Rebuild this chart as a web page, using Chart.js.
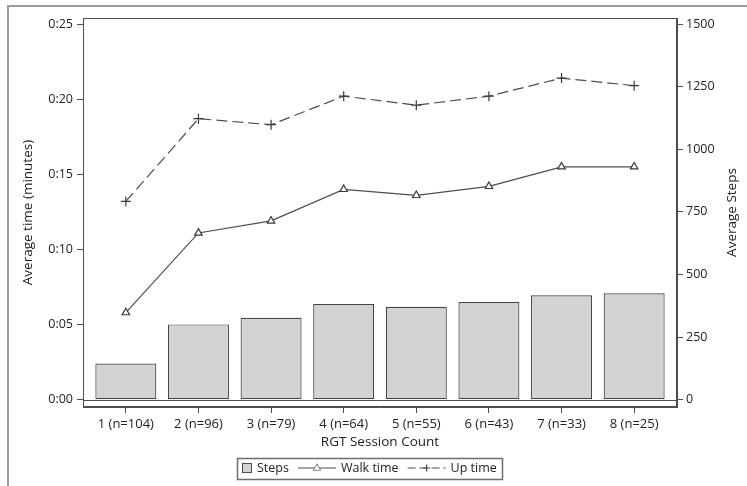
<!DOCTYPE html>
<html>
<head>
<meta charset="utf-8">
<script src="https://cdn.jsdelivr.net/npm/chart.js@4/dist/chart.umd.min.js"></script>
<style>
  html, body { margin: 0; padding: 0; background: #ffffff; }
  #wrap { width: 747px; height: 486px; position: relative; }
</style>
</head>
<body>
<div id="wrap"><canvas id="chart" width="747" height="486"></canvas></div>
<script>
// Session categories and their labels on the x axis
const sessions = [1, 2, 3, 4, 5, 6, 7, 8];
const sessionLabels = ['1 (n=104)', '2 (n=96)', '3 (n=79)', '4 (n=64)', '5 (n=55)', '6 (n=43)', '7 (n=33)', '8 (n=25)'];

// Series values
const avgSteps = [145, 301, 327, 382, 371, 390, 417, 425];          // right axis (steps)
const walkTime = [5.8, 11.1, 11.9, 14.0, 13.6, 14.2, 15.5, 15.5];   // left axis (minutes)
const upTime   = [13.2, 18.7, 18.3, 20.2, 19.6, 20.2, 21.4, 20.9];  // left axis (minutes)

// Tick values and labels
const timeTicks = [0, 5, 10, 15, 20, 25];
const timeTickLabels = ['0:00', '0:05', '0:10', '0:15', '0:20', '0:25'];
const stepTicks = [0, 250, 500, 750, 1000, 1250, 1500];

const FONT = '"Open Sans", "Noto Sans", "DejaVu Sans", sans-serif';
const TEXT = '#222222';
const AXIS = '#4d4d4d';

const pts = vals => vals.map((v, i) => ({ x: sessions[i], y: v }));

// Frame, baseline, right-hand title and the boxed legend
const decor = {
  id: 'decor',
  beforeDraw(chart) {
    const { ctx, width, height } = chart;
    ctx.save();
    ctx.fillStyle = '#ffffff';
    ctx.fillRect(0, 0, width, height);
    ctx.strokeStyle = '#9c9c9c';
    ctx.lineWidth = 2;
    ctx.beginPath();
    ctx.moveTo(8, height + 2);
    ctx.lineTo(8, 6);
    ctx.lineTo(width + 2, 6);
    ctx.stroke();
    ctx.restore();
  },
  beforeDatasetsDraw(chart) {
    const { ctx, chartArea: a } = chart;
    const y0 = Math.round(chart.scales.ySteps.getPixelForValue(0)) + 0.5;
    ctx.save();
    ctx.strokeStyle = AXIS;
    ctx.lineWidth = 1;
    ctx.beginPath();
    ctx.moveTo(a.left, y0);
    ctx.lineTo(a.right, y0);
    ctx.stroke();
    ctx.restore();
  },
  afterDraw(chart) {
    const { ctx, chartArea: a } = chart;
    ctx.save();
    // plot frame
    ctx.strokeStyle = AXIS;
    ctx.lineWidth = 1;
    ctx.strokeRect(Math.round(a.left) + 0.5, Math.round(a.top) + 0.5,
                   Math.round(a.right - a.left) - 1, Math.round(a.bottom - a.top) - 1);

    // right axis title, reading bottom to top
    ctx.fillStyle = TEXT;
    ctx.font = '13.5px ' + FONT;
    ctx.textAlign = 'center';
    ctx.textBaseline = 'middle';
    ctx.translate(732, (a.top + a.bottom) / 2);
    ctx.rotate(-Math.PI / 2);
    ctx.fillText('Average Steps', 0, 0);
    ctx.restore();

    // legend
    const ds = chart.data.datasets;
    ctx.save();
    ctx.font = '12.5px ' + FONT;
    ctx.textBaseline = 'middle';
    ctx.textAlign = 'left';
    const pad = 5, sw = 10, lineLen = 38, gapIn = 5, gapOut = 9;
    const items = [
      { kind: 'box', text: ds[0].label },
      { kind: 'line', dash: [], style: 'triangle', text: ds[1].label },
      { kind: 'line', dash: [8, 4], style: 'cross', text: ds[2].label }
    ];
    let total = pad * 2;
    items.forEach((it, i) => {
      it.tw = ctx.measureText(it.text).width;
      it.sym = it.kind === 'box' ? sw : lineLen;
      total += it.sym + gapIn + it.tw + (i < items.length - 1 ? gapOut : 0);
    });
    const cx = 369, cy = 468, h = 21;
    let x = Math.round(cx - total / 2);
    const top = Math.round(cy - h / 2);
    ctx.strokeStyle = '#6e6e6e';
    ctx.lineWidth = 1.5;
    ctx.strokeRect(x + 0.5, top + 0.5, Math.round(total), h);
    x += pad;
    items.forEach(it => {
      if (it.kind === 'box') {
        ctx.fillStyle = '#d3d3d3';
        ctx.fillRect(x, Math.round(cy - sw / 2), sw, sw);
        ctx.strokeStyle = AXIS;
        ctx.lineWidth = 1;
        ctx.strokeRect(x + 0.5, Math.round(cy - sw / 2) + 0.5, sw - 1, sw - 1);
      } else {
        ctx.strokeStyle = AXIS;
        ctx.lineWidth = 1.2;
        ctx.setLineDash(it.dash);
        ctx.beginPath();
        ctx.moveTo(x, cy);
        ctx.lineTo(x + lineLen, cy);
        ctx.stroke();
        ctx.setLineDash([]);
        ctx.fillStyle = '#ffffff';
        Chart.helpers.drawPoint(ctx, { pointStyle: it.style, radius: 3.6, borderWidth: 1.2, rotation: 0 }, x + lineLen / 2, cy);
        ctx.fill();
      }
      x += it.sym + gapIn;
      ctx.fillStyle = TEXT;
      ctx.fillText(it.text, x, cy);
      x += it.tw + gapOut;
    });
    ctx.restore();
  }
};

const tickGrid = { display: true, drawOnChartArea: false, drawTicks: true, tickLength: 6, color: AXIS, lineWidth: 1 };

new Chart(document.getElementById('chart'), {
  type: 'bar',
  data: {
    datasets: [
      {
        type: 'bar',
        label: 'Steps',
        data: pts(avgSteps),
        xAxisID: 'x',
        yAxisID: 'ySteps',
        backgroundColor: '#d3d3d3',
        borderColor: '#454545',
        borderWidth: 1.2,
        borderSkipped: false,
        barPercentage: 1,
        categoryPercentage: 0.84,
        order: 3
      },
      {
        type: 'line',
        label: 'Walk time',
        data: pts(walkTime),
        xAxisID: 'x',
        yAxisID: 'yTime',
        borderColor: AXIS,
        borderWidth: 1.2,
        tension: 0,
        fill: false,
        pointStyle: 'triangle',
        pointRadius: 4.3,
        pointBorderWidth: 1.2,
        pointBorderColor: '#3a3a3a',
        pointBackgroundColor: '#ffffff',
        order: 1
      },
      {
        type: 'line',
        label: 'Up time',
        data: pts(upTime),
        xAxisID: 'x',
        yAxisID: 'yTime',
        borderColor: AXIS,
        borderWidth: 1.2,
        borderDash: [11, 5],
        tension: 0,
        fill: false,
        pointStyle: 'cross',
        pointRadius: 5,
        pointBorderWidth: 1.2,
        pointBorderColor: '#3a3a3a',
        pointBackgroundColor: '#ffffff',
        order: 2
      }
    ]
  },
  options: {
    responsive: false,
    animation: false,
    devicePixelRatio: 1,
    layout: { padding: { top: 18, bottom: 36, left: 0, right: 0 } },
    plugins: { legend: { display: false }, tooltip: { enabled: false } },
    scales: {
      x: {
        type: 'linear',
        position: 'bottom',
        min: 0.41,
        max: 8.59,
        offset: false,
        afterBuildTicks: s => { s.ticks = sessions.map(v => ({ value: v })); },
        afterFit: s => { s.height = 43; },
        grid: Object.assign({ offset: false }, tickGrid),
        border: { display: true, color: AXIS },
        ticks: {
          autoSkip: false, maxRotation: 0, padding: 3,
          font: { family: FONT, size: 13 }, color: TEXT,
          callback: v => sessionLabels[sessions.indexOf(v)]
        },
        title: {
          display: true, text: 'RGT Session Count', color: TEXT,
          font: { family: FONT, size: 13.5 }, padding: { top: 0, bottom: 0 }
        }
      },
      yTime: {
        type: 'linear',
        position: 'left',
        min: -0.48,
        max: 25.40,
        afterBuildTicks: s => { s.ticks = timeTicks.map(v => ({ value: v })); },
        afterFit: s => { s.width = 83; },
        grid: tickGrid,
        border: { display: true, color: AXIS },
        ticks: {
          padding: 4, font: { family: FONT, size: 12.5 }, color: TEXT,
          callback: v => timeTickLabels[timeTicks.indexOf(v)]
        },
        title: {
          display: true, text: 'Average time (minutes)', color: TEXT,
          font: { family: FONT, size: 13.5 }, padding: { top: 20, bottom: 0 }
        }
      },
      ySteps: {
        type: 'linear',
        position: 'right',
        min: -28.8,
        max: 1524,
        afterBuildTicks: s => { s.ticks = stepTicks.map(v => ({ value: v })); },
        afterFit: s => { s.width = 70; },
        grid: tickGrid,
        border: { display: true, color: AXIS },
        ticks: {
          padding: 3, font: { family: FONT, size: 12.5 }, color: TEXT,
          callback: v => String(v)
        },
        title: { display: false }
      }
    }
  },
  plugins: [decor]
});
</script>
</body>
</html>
